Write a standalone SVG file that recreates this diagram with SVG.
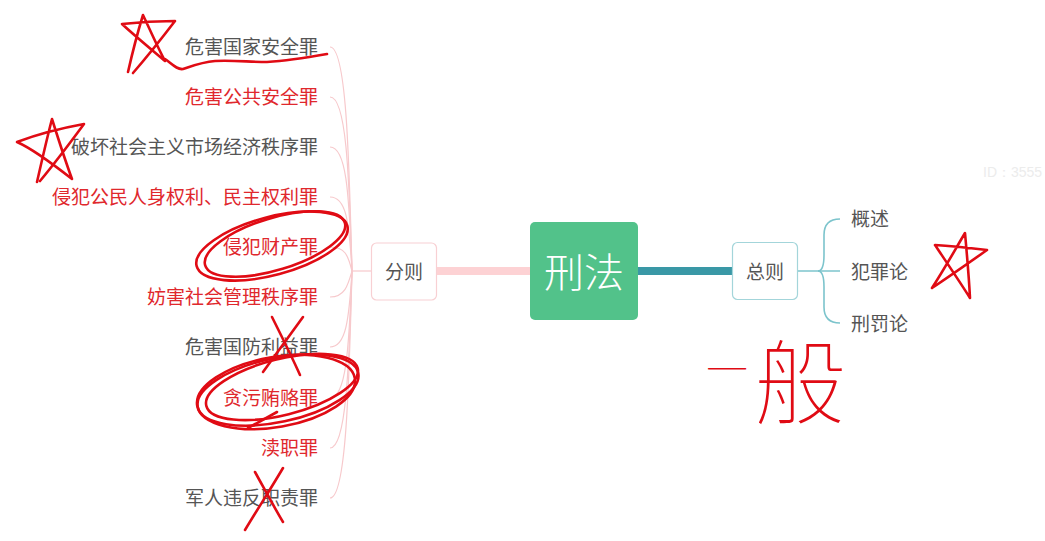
<svg xmlns="http://www.w3.org/2000/svg" width="1045" height="541" viewBox="0 0 1045 541">
<style>
text{font-family:"Noto Sans CJK SC","Noto Sans",sans-serif}
.gray{fill:#555555;font-size:19px}
.red{fill:#E0282D;font-size:19px}
.node{font-size:19px;fill:#555555}
.lc{fill:none;stroke:#F7C9CC;stroke-width:1.2}
.rc{fill:none;stroke:#7CC4CC;stroke-width:1.6}
.pen{fill:none;stroke:#E00B14;stroke-width:2.6;stroke-linecap:round;stroke-linejoin:round}
.hand{fill:#E00B14;font-weight:100}
</style>
<rect width="1045" height="541" fill="#ffffff"/>
<text x="983" y="177" style="font-family:'Liberation Sans',sans-serif;font-size:14px;fill:#ececec">ID：3555</text>
<g id="connectors">
<line x1="437" y1="271" x2="530" y2="271" stroke="#FDD2D4" stroke-width="8"/>
<line x1="638" y1="271" x2="733" y2="271" stroke="#3A98A6" stroke-width="8"/>
<path class="lc" d="M371,271 L352,271"/>
<path class="lc" d="M352,271 C349,150 346,47 330,47"/>
<path class="lc" d="M352,271 C349,170 346,97 330,97"/>
<path class="lc" d="M352,271 C349,190 346,147 330,147"/>
<path class="lc" d="M352,271 C349,220 346,197 330,197"/>
<path class="lc" d="M352,271 C348,255 345,247 330,247"/>
<path class="lc" d="M352,271 C348,285 345,297 330,297"/>
<path class="lc" d="M352,271 C349,320 346,347 330,347"/>
<path class="lc" d="M352,271 C349,350 346,398 330,398"/>
<path class="lc" d="M352,271 C349,370 346,448 330,448"/>
<path class="lc" d="M352,271 C349,390 346,498 330,498"/>
<path class="rc" d="M797,271 L840,271"/>
<path class="rc" d="M818,271 Q824,271 824,255 L824,235 Q824,219 840,219"/>
<path class="rc" d="M818,271 Q824,271 824,287 L824,307 Q824,323 840,323"/>
</g>
<g id="root">
<rect x="530" y="222" width="108" height="98" rx="5" fill="#52C28A"/>
<text x="584" y="287" text-anchor="middle" style="font-size:40px;fill:#ffffff;font-weight:300">刑法</text>
</g>
<g id="fenze">
<rect x="371.5" y="243" width="65" height="57" rx="5" fill="#ffffff" stroke="#F8D0D3" stroke-width="1.2"/>
<text x="404" y="279" text-anchor="middle" class="node">分则</text>
</g>
<g id="zongze">
<rect x="732.5" y="242.5" width="65" height="57" rx="5" fill="#ffffff" stroke="#A3D5DA" stroke-width="1.2"/>
<text x="765" y="279" text-anchor="middle" class="node">总则</text>
</g>
<g id="left-items" text-anchor="end">
<g id="l1"><text x="318" y="54" class="gray">危害国家安全罪</text></g>
<g id="l2"><text x="318" y="104" class="red">危害公共安全罪</text></g>
<g id="l3"><text x="318" y="154" class="gray">破坏社会主义市场经济秩序罪</text></g>
<g id="l4"><text x="318" y="204" class="red">侵犯公民人身权利、民主权利罪</text></g>
<g id="l5"><text x="318" y="254" class="red">侵犯财产罪</text></g>
<g id="l6"><text x="318" y="304" class="red">妨害社会管理秩序罪</text></g>
<g id="l7"><text x="318" y="354" class="gray">危害国防利益罪</text></g>
<g id="l8"><text x="318" y="405" class="red">贪污贿赂罪</text></g>
<g id="l9"><text x="318" y="455" class="red">渎职罪</text></g>
<g id="l10"><text x="318" y="505" class="gray">军人违反职责罪</text></g>
</g>
<g id="right-items">
<g id="r1"><text x="851" y="226" class="gray">概述</text></g>
<g id="r2"><text x="851" y="279" class="gray">犯罪论</text></g>
<g id="r3"><text x="851" y="331" class="gray">刑罚论</text></g>
</g>
<g id="annotations">
<path class="pen" d="M128,72 C133,50 139,28 143,15 C150,30 158,48 165,61 C152,50 135,36 122,24 C140,22 160,21 175,21 C162,38 146,58 133,73"/>
<path class="pen" d="M165,59 C172,64 177,70 183,69 C192,66 202,62 215,61 C232,60 250,62 267,62 C285,61 305,58 327,54"/>
<path class="pen" d="M37,182 C42,160 47,138 52,119 C58,138 65,160 72,179 C58,168 35,150 17,142 C38,134 62,128 84,124 C70,143 55,163 40,181"/>
<ellipse class="pen" cx="272" cy="246" rx="78" ry="29" transform="rotate(-15 272 246)"/>
<ellipse class="pen" cx="275" cy="244" rx="73" ry="26" transform="rotate(-17 275 244)"/>
<path class="pen" d="M272,317 C282,337 292,357 300,375"/>
<path class="pen" d="M303,317 C290,335 276,354 263,372"/>
<ellipse class="pen" cx="278" cy="390" rx="82" ry="32" transform="rotate(-12 278 390)"/>
<ellipse class="pen" cx="282" cy="387" rx="78" ry="28" transform="rotate(-14 282 387)"/>
<ellipse class="pen" cx="276" cy="392" rx="80" ry="35" transform="rotate(-10 276 392)"/>
<path class="pen" d="M277,412 L248,428"/>
<path class="pen" d="M255,472 C265,490 274,507 283,522"/>
<path class="pen" d="M283,468 C270,490 257,510 245,530"/>
<path class="pen" d="M932,288 C945,268 956,248 965,233 C967,255 969,278 970,298 C960,282 945,260 935,245 C952,246 970,248 987,250 C970,262 950,276 932,288"/>
<text x="706" y="385" class="hand" style="font-size:42px">一</text>
<text x="754" y="417" class="hand" style="font-size:92px">般</text>
</g>
</svg>
